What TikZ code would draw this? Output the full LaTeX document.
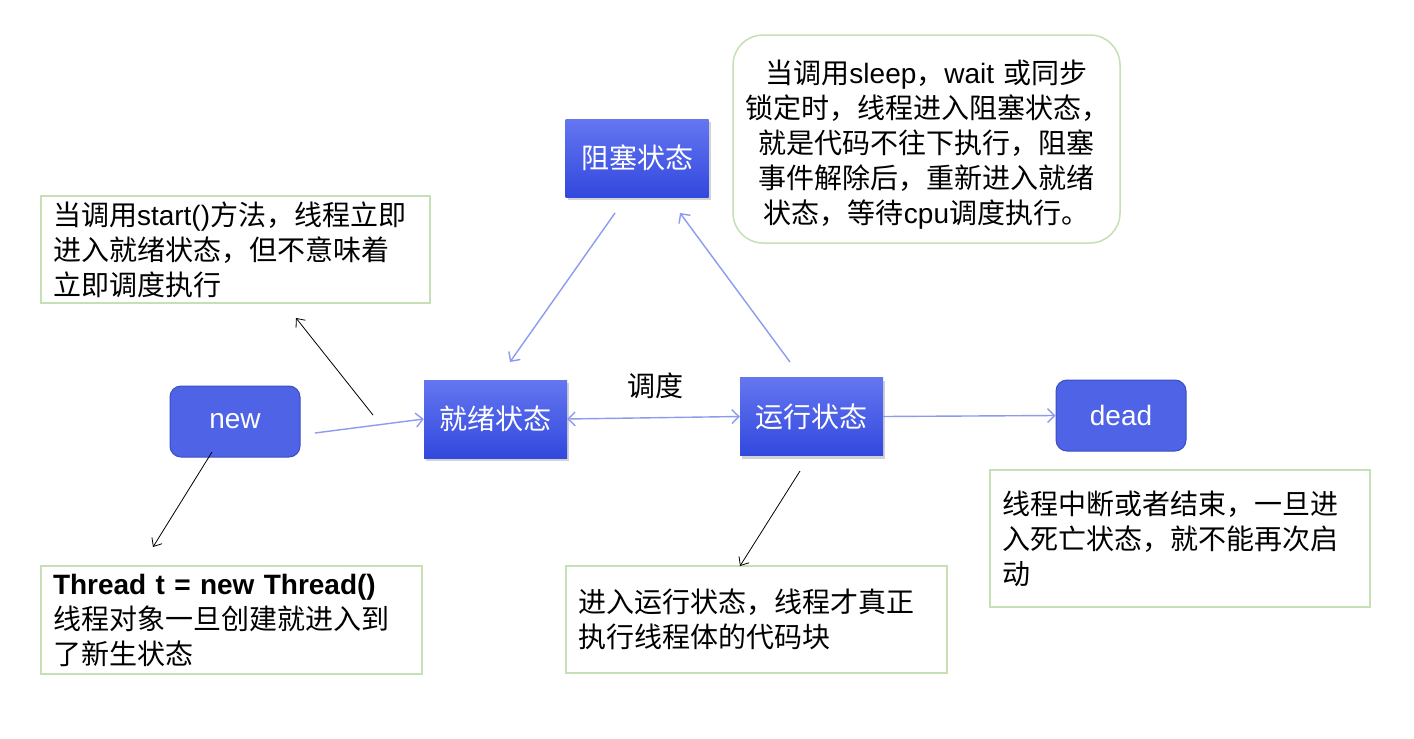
\documentclass[tikz,border=0pt]{standalone}
\usepackage{fontspec}
\setmainfont{Noto Sans CJK SC}
\newfontfamily\lat{Liberation Sans}
\usetikzlibrary{arrows.meta,shadows}
\definecolor{stTop}{RGB}{100,118,240}
\definecolor{stBot}{RGB}{50,72,222}
\definecolor{rndFill}{RGB}{79,99,230}
\definecolor{rndDraw}{RGB}{60,78,195}
\definecolor{grn}{RGB}{197,224,180}
\definecolor{blu}{RGB}{140,155,240}
\tikzset{
  txt/.style={font=\fontsize{28}{35}\selectfont},
  statebox/.style={txt, text=white, top color=stTop, bottom color=stBot, draw=none,
     minimum width=143pt, minimum height=78pt, inner sep=0pt,
     drop shadow={shadow xshift=2pt, shadow yshift=-3pt, fill=gray, opacity=0.35}},
  rndbox/.style={txt, text=white, fill=rndFill, draw=rndDraw, line width=1pt,
     rounded corners=11pt, minimum width=130pt, minimum height=71pt, inner sep=0pt},
  note/.style={txt, draw=grn, line width=1.5pt, inner xsep=12pt, inner ysep=0pt, align=left},
  barrow/.style={draw=blu, line width=1.4pt, -{Straight Barb[length=7pt,width=14pt]}},
  karrow/.style={draw=black, line width=0.8pt, -{Straight Barb[length=7pt,width=12pt]}}
}
\begin{document}
\begin{tikzpicture}[x=1pt,y=-1pt]
\useasboundingbox (0,0) rectangle (1414,739);
\fill[white] (0,0) rectangle (1414,739);

% state nodes
\node[rndbox] (new) at (235,421.5) {\lat new};
\node[statebox] (ready) at (495.5,419) {就绪状态};
\node[statebox] (blocked) at (637,158) {阻塞状态};
\node[statebox] (run) at (811.5,416.5) {运行状态};
\node[rndbox] (dead) at (1121,415.5) {\lat dead};

% notes
\node[note, text width=365pt, minimum height=107pt] (n1) at (235.5,249.5)
  {当调用{\lat start()}方法，线程立即\\进入就绪状态，但不意味着\\立即调度执行};
\node[note, rounded corners=30pt, align=center, text width=363pt, minimum height=208pt] (n2) at (926.5,139)
  {\rule{0pt}{34pt}当调用{\lat sleep}，{\lat wait} 或同步\\锁定时，线程进入阻塞状态，\\就是代码不往下执行，阻塞\\事件解除后，重新进入就绪\\状态，等待{\lat cpu}调度执行。};
\node[note, text width=357pt, minimum height=108pt] (n3) at (231.5,620)
  {{\lat\bfseries Thread t = new Thread()}\\线程对象一旦创建就进入到\\了新生状态};
\node[note, text width=357pt, minimum height=107pt] (n4) at (756.5,619.5)
  {进入运行状态，线程才真正\\执行线程体的代码块};
\node[note, text width=356pt, minimum height=137pt] (n5) at (1180,538.5)
  {线程中断或者结束，一旦进\\入死亡状态，就不能再次启\\动};

\node[txt, inner sep=0pt] (lab) at (655,386) {调度};

% free-end coordinates
\coordinate (a1) at (315,433);
\coordinate (b1) at (615,213);
\coordinate (b2) at (510,362);
\coordinate (c1) at (790,362);
\coordinate (c2) at (680,213);
\coordinate (k1s) at (373,415);
\coordinate (k1e) at (296,318);
\coordinate (k2s) at (212,452);
\coordinate (k2e) at (153,547);
\coordinate (k3s) at (800,471);
\coordinate (k3e) at (740,566);

% blue connectors
\draw[barrow] (a1) -- (ready.west);
\draw[barrow, {Straight Barb[length=7pt,width=14pt]}-{Straight Barb[length=7pt,width=14pt]}] (ready.east) -- (run.west);
\draw[barrow] (run.east) -- (dead.west);
\draw[barrow] (b1) -- (b2);
\draw[barrow] (c1) -- (c2);

% black connectors
\draw[karrow] (k1s) -- (k1e);
\draw[karrow] (k2s) -- (k2e);
\draw[karrow] (k3s) -- (k3e);
\end{tikzpicture}
\end{document}
